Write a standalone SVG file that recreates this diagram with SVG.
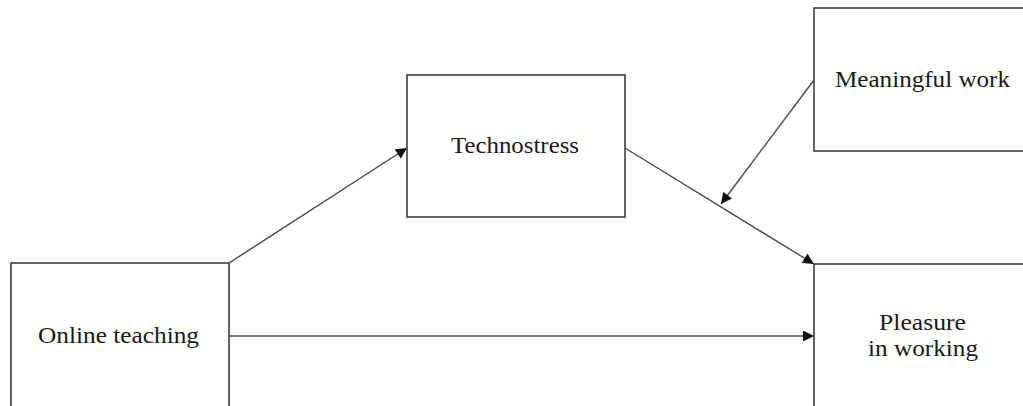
<svg xmlns="http://www.w3.org/2000/svg" width="1023" height="406" viewBox="0 0 1023 406">
<style>
.box{fill:#fff;stroke:#4a4a4a;stroke-width:1.7}
.lbl{font-family:"Liberation Serif","DejaVu Serif",serif;font-size:24px;fill:#1a1a1a;text-anchor:middle}
.edge{stroke:#4a4a4a;stroke-width:1.4;fill:none;marker-end:url(#ah)}
</style>
<defs>
<marker id="ah" viewBox="0 0 10 10" refX="10" refY="5" markerWidth="12" markerHeight="11" markerUnits="userSpaceOnUse" orient="auto">
<path d="M0,0 L10,5 L0,10 z" fill="#111"/>
</marker>
</defs>
<rect width="1023" height="406" fill="#fff"/>
<g id="connectors">
<line class="edge" x1="229" y1="263" x2="407" y2="148"/>
<line class="edge" x1="625" y1="148" x2="814" y2="264"/>
<line class="edge" x1="229" y1="336" x2="814" y2="336"/>
<line class="edge" x1="814" y1="80" x2="721" y2="204"/>
</g>
<g id="online-teaching">
<rect class="box" x="11" y="263" width="218" height="160"/>
<text class="lbl" x="118.5" y="343" textLength="161" lengthAdjust="spacingAndGlyphs">Online teaching</text>
</g>
<g id="technostress">
<rect class="box" x="407" y="75" width="218" height="142"/>
<text class="lbl" x="515" y="153" textLength="128" lengthAdjust="spacingAndGlyphs">Technostress</text>
</g>
<g id="meaningful-work">
<rect class="box" x="814" y="8" width="230" height="143"/>
<text class="lbl" x="922.5" y="87" textLength="175" lengthAdjust="spacingAndGlyphs">Meaningful work</text>
</g>
<g id="pleasure-in-working">
<rect class="box" x="814" y="264" width="230" height="160"/>
<text class="lbl" x="922.5" y="330" textLength="87" lengthAdjust="spacingAndGlyphs">Pleasure</text>
<text class="lbl" x="923" y="356" textLength="110" lengthAdjust="spacingAndGlyphs">in working</text>
</g>
</svg>
